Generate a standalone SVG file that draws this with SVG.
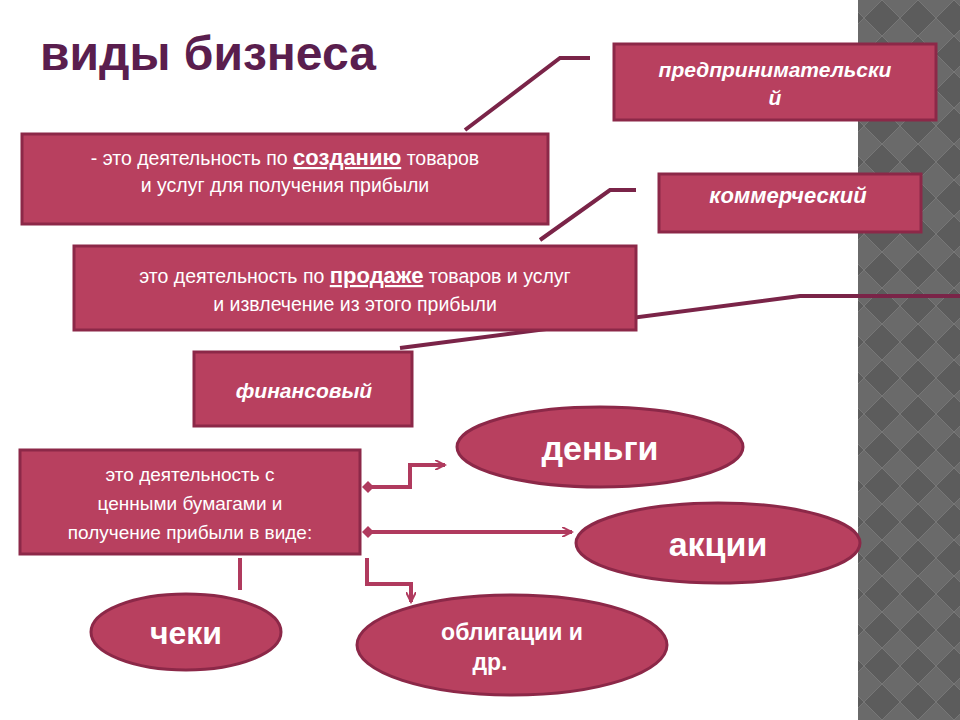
<svg xmlns="http://www.w3.org/2000/svg" width="960" height="720" viewBox="0 0 960 720">
<defs>
<pattern id="chk" width="36" height="36" patternUnits="userSpaceOnUse">
<rect width="36" height="36" fill="#6a6a6a"/>
<path d="M18 0 L36 18 L18 36 L0 18 Z" fill="#5c5c5c" stroke="#777" stroke-width="1"/>
</pattern>
<marker id="arr" markerWidth="12" markerHeight="10" refX="10" refY="5" orient="auto" markerUnits="userSpaceOnUse"><path d="M0 0 L10 5 L0 10" fill="none" stroke="#b03a5e" stroke-width="2"/></marker>
<marker id="dia" markerWidth="12" markerHeight="12" refX="6" refY="6" orient="auto" markerUnits="userSpaceOnUse"><path d="M0 6 L6 0 L12 6 L6 12 Z" fill="#b03a5e"/></marker>
</defs>
<style>
.b{fill:#b8405f;stroke:#8c2848;stroke-width:3}
.t{font-family:"Liberation Sans",Arial,sans-serif;fill:#fff}
.c{fill:none;stroke:#b03a5e;stroke-width:4}
.l{fill:none;stroke:#7a2448;stroke-width:4}
</style>
<rect width="960" height="720" fill="#fff"/>
<rect x="858" y="0" width="102" height="720" fill="url(#chk)"/>
<text x="40" y="70" font-family="Liberation Sans,Arial,sans-serif" font-weight="bold" font-size="48" fill="#5a1e4e">виды бизнеса</text>
<g id="connectors">
<path class="l" d="M465 130 L560 58 L590 58"/>
<path class="l" d="M540 240 L610 190 L636 190"/>
<path class="l" d="M400 348 L800 296 L960 296"/>
<path class="c" d="M368 487 L410 487 L410 465 L445 465" marker-start="url(#dia)" marker-end="url(#arr)"/>
<path class="c" d="M368 532 L572 532" marker-start="url(#dia)" marker-end="url(#arr)"/>
<path class="c" d="M367 558 L367 584 L411 584 L411 602" marker-end="url(#arr)"/>
<path class="c" d="M240 558 L240 590"/>
</g>
<g id="n1"><rect class="b" x="614" y="44" width="322" height="76"/><text class="t" x="775" y="77" text-anchor="middle" font-size="21" font-style="italic" font-weight="bold">предпринимательски</text><text class="t" x="775" y="105" text-anchor="middle" font-size="21" font-style="italic" font-weight="bold">й</text></g>
<g id="n2"><rect class="b" x="22" y="134" width="526" height="90"/><text class="t" x="285" y="165" text-anchor="middle" font-size="19.5">- это деятельность по <tspan font-weight="bold" font-size="22" text-decoration="underline">созданию</tspan> товаров</text><text class="t" x="285" y="192" text-anchor="middle" font-size="19.5">и услуг для получения прибыли</text></g>
<g id="n3"><rect class="b" x="659" y="174" width="262" height="58"/><text class="t" x="788" y="203" text-anchor="middle" font-size="22" font-style="italic" font-weight="bold">коммерческий</text></g>
<g id="n4"><rect class="b" x="74" y="246" width="562" height="84"/><text class="t" x="355" y="283" text-anchor="middle" font-size="19.5">это деятельность по <tspan font-weight="bold" font-size="22" text-decoration="underline">продаже</tspan> товаров и услуг</text><text class="t" x="355" y="311" text-anchor="middle" font-size="19.5">и извлечение из этого прибыли</text></g>
<g id="n5"><rect class="b" x="194" y="352" width="218" height="74"/><text class="t" x="304" y="398" text-anchor="middle" font-size="21" font-style="italic" font-weight="bold">финансовый</text></g>
<g id="n6"><rect class="b" x="20" y="450" width="340" height="104"/><text class="t" x="190" y="481" text-anchor="middle" font-size="19">это деятельность с</text><text class="t" x="190" y="510" text-anchor="middle" font-size="19">ценными бумагами и</text><text class="t" x="190" y="539" text-anchor="middle" font-size="19">получение прибыли в виде:</text></g>
<g id="n7"><ellipse class="b" cx="600" cy="447" rx="143" ry="40"/><text class="t" x="600" y="460" text-anchor="middle" font-size="34" font-weight="bold">деньги</text></g>
<g id="n8"><ellipse class="b" cx="718" cy="543" rx="142" ry="40"/><text class="t" x="718" y="556" text-anchor="middle" font-size="34" font-weight="bold">акции</text></g>
<g id="n9"><ellipse class="b" cx="186" cy="632" rx="95" ry="38"/><text class="t" x="186" y="644" text-anchor="middle" font-size="32" font-weight="bold">чеки</text></g>
<g id="n10"><ellipse class="b" cx="512" cy="645" rx="155" ry="50"/><text class="t" x="512" y="640" text-anchor="middle" font-size="23" font-weight="bold">облигации и</text><text class="t" x="490" y="670" text-anchor="middle" font-size="23" font-weight="bold">др.</text></g>
</svg>
